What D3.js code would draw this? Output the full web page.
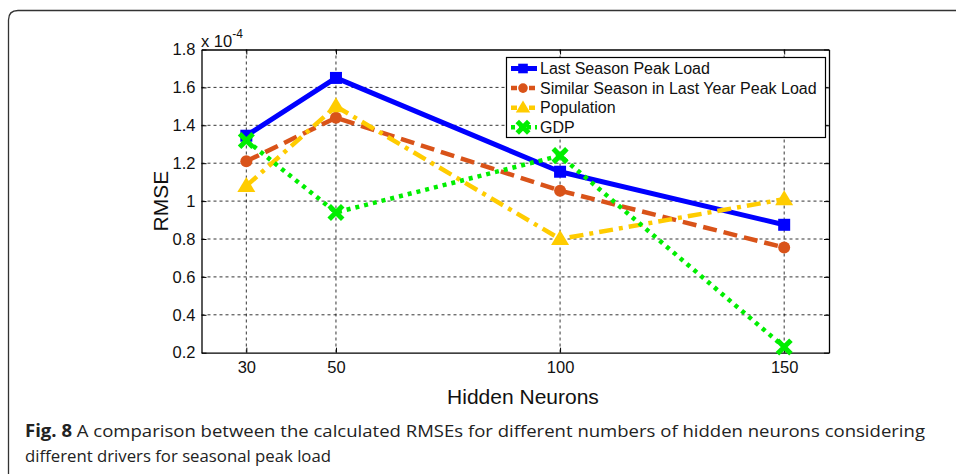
<!DOCTYPE html>
<html>
<head>
<meta charset="utf-8">
<script src="https://cdn.jsdelivr.net/npm/d3@7"></script>
<style>
  body { margin: 0; background: #fff; }
  svg text { font-family: "Liberation Sans", Arial, sans-serif; }
</style>
</head>
<body>
<script>
// hidden neurons on x, RMSE (x 1e-4) on y
var neurons = [30, 50, 100, 150]
var lastSeason = [1.345, 1.65, 1.155, 0.875]
var similarSeason = [1.21, 1.44, 1.055, 0.755]
var population = [1.08, 1.50, 0.80, 1.01]
var gdp = [1.32, 0.94, 1.24, 0.23]

var seriesNames = ["Last Season Peak Load", "Similar Season in Last Year Peak Load", "Population", "GDP"]
var yTicks = [0.2, 0.4, 0.6, 0.8, 1, 1.2, 1.4, 1.6, 1.8]
var xTicks = [30, 50, 100, 150]

var series = [
  {name: seriesNames[0], values: lastSeason, color: "#0000ff", dash: null, width: 5, marker: "square"},
  {name: seriesNames[1], values: similarSeason, color: "#d95319", dash: "14,7", width: 4.5, marker: "circle"},
  {name: seriesNames[2], values: population, color: "#ffcc00", dash: "14,6,4,6", width: 4.5, marker: "triangle"},
  {name: seriesNames[3], values: gdp, color: "#00ee00", dash: "4,5", width: 4.5, marker: "cross"}
]

var W = 956, H = 474
var svg = d3.select("body").append("svg").attr("width", W).attr("height", H)

/* cadre de la figure */
svg.append("path")
  .attr("d", "M8.5,474 L8.5,20 Q8.5,10.5 18,10.5 L956,10.5")
  .attr("fill", "none").attr("stroke", "#333").attr("stroke-width", 1.3)

var pLeft = 201.5, pRight = 829, pTop = 49.5, pBottom = 352.7

var x = d3.scaleLinear().domain([20, 160]).range([pLeft, pRight])
var y = d3.scaleLinear().domain([0.2, 1.8]).range([pBottom, pTop])

/* grille */
svg.append("g").selectAll("line")
  .data(yTicks.slice(1, -1))
  .enter().append("line")
  .attr("x1", pLeft).attr("x2", pRight)
  .attr("y1", d => y(d)).attr("y2", d => y(d))
  .attr("stroke", "#000").attr("stroke-width", 0.8).attr("stroke-dasharray", "3,3")

svg.append("g").selectAll("line")
  .data(xTicks)
  .enter().append("line")
  .attr("x1", d => x(d)).attr("x2", d => x(d))
  .attr("y1", pTop).attr("y2", pBottom)
  .attr("stroke", "#000").attr("stroke-width", 0.8).attr("stroke-dasharray", "3,3")

/* axes */
var yAxis = d3.axisLeft(y).tickValues(yTicks).tickSizeInner(-5).tickSizeOuter(0).tickPadding(6)
  .tickFormat(d => d3.format("")(+d.toFixed(1)))
var xAxis = d3.axisBottom(x).tickValues(xTicks).tickSizeInner(-5).tickSizeOuter(0).tickPadding(9)

var gy = svg.append("g").attr("transform", "translate(" + pLeft + ",0)").call(yAxis)
var gx = svg.append("g").attr("transform", "translate(0," + pBottom + ")").call(xAxis)
var gy2 = svg.append("g").attr("transform", "translate(" + pRight + ",0)")
  .call(d3.axisRight(y).tickValues(yTicks).tickSizeInner(-5).tickSizeOuter(0).tickFormat(""))
var gx2 = svg.append("g").attr("transform", "translate(0," + pTop + ")")
  .call(d3.axisTop(x).tickValues(xTicks).tickSizeInner(-5).tickSizeOuter(0).tickFormat(""))

;[gx, gy, gx2, gy2].forEach(g => {
  g.select(".domain").attr("stroke", "#000").attr("stroke-width", 1.3)
  g.selectAll(".tick line").attr("stroke", "#000")
  g.selectAll("text").attr("font-size", 16.5).attr("fill", "#111")
    .style("font-family", "Liberation Sans, Arial, sans-serif")
})

svg.append("text").attr("x", 201).attr("y", 47).attr("font-size", 16.5).attr("fill", "#111")
  .text("x 10")
  .append("tspan").attr("dy", -9).attr("font-size", 12).text("-4")

svg.append("text")
  .attr("transform", "translate(168," + y(1) + ") rotate(-90)")
  .attr("text-anchor", "middle").attr("font-size", 21).attr("fill", "#111")
  .text("RMSE")

svg.append("text").attr("x", 523).attr("y", 404)
  .attr("text-anchor", "middle").attr("font-size", 21).attr("fill", "#111")
  .text("Hidden Neurons")

/* courbes */
var line = d3.line().x((d, i) => x(neurons[i])).y(d => y(d))

function drawMarker(g, type, cx, cy, color, size) {
  var s = size || 1
  if (type == "square") {
    g.append("rect").attr("x", cx - 6 * s).attr("y", cy - 6 * s).attr("width", 12 * s).attr("height", 12 * s).attr("fill", color)
  } else if (type == "circle") {
    g.append("circle").attr("cx", cx).attr("cy", cy).attr("r", 6 * s).attr("fill", color)
  } else if (type == "triangle") {
    g.append("path").attr("d", "M" + cx + "," + (cy - 9 * s) + " L" + (cx + 9 * s) + "," + (cy + 6 * s) + " L" + (cx - 9 * s) + "," + (cy + 6 * s) + " Z").attr("fill", color)
  } else {
    var a = 5 * s
    g.append("path").attr("d", "M" + (cx - a) + "," + (cy - a) + " L" + (cx + a) + "," + (cy + a) + " M" + (cx + a) + "," + (cy - a) + " L" + (cx - a) + "," + (cy + a))
      .attr("stroke", color).attr("stroke-width", 5).attr("stroke-linecap", "square")
  }
}

series.forEach(s => {
  svg.append("path")
    .attr("d", line(s.values))
    .attr("fill", "none")
    .attr("stroke", s.color)
    .attr("stroke-width", s.width)
    .attr("stroke-dasharray", s.dash)
    .attr("stroke-linejoin", "round")
  var gm = svg.append("g")
  s.values.forEach((v, i) => drawMarker(gm, s.marker, x(neurons[i]), y(v), s.color))
})

/* légende */
var lg = svg.append("g")
lg.append("rect").attr("x", 506.5).attr("y", 57.5).attr("width", 319).attr("height", 80)
  .attr("fill", "#fff").attr("stroke", "#000").attr("stroke-width", 1.2)

series.forEach((s, i) => {
  var ly = 68.5 + i * 19.6
  lg.append("line").attr("x1", 511).attr("x2", 537).attr("y1", ly).attr("y2", ly)
    .attr("stroke", s.color).attr("stroke-width", s.width)
    .attr("stroke-dasharray", s.dash ? (s.marker == "cross" ? "4,4" : "6,3") : null)
  drawMarker(lg, s.marker, 523, ly, s.color, 0.8)
  lg.append("text").attr("x", 540).attr("y", ly + 5.5).attr("font-size", 16).attr("fill", "#111")
    .text(s.name)
})

/* légende de la figure */
var cap = svg.append("text").attr("x", 25).attr("y", 437)
  .style("font-family", "'Open Sans', sans-serif").attr("font-size", 17).attr("fill", "#222")
  .attr("textLength", 900).attr("lengthAdjust", "spacingAndGlyphs")
cap.append("tspan").attr("font-weight", "bold").text("Fig. 8")
cap.append("tspan").text("  A comparison between the calculated RMSEs for different numbers of hidden neurons considering")

svg.append("text").attr("x", 25).attr("y", 462)
  .style("font-family", "'Open Sans', sans-serif").attr("font-size", 17).attr("fill", "#222")
  .attr("textLength", 306).attr("lengthAdjust", "spacingAndGlyphs")
  .text("different drivers for seasonal peak load")
</script>
</body>
</html>
